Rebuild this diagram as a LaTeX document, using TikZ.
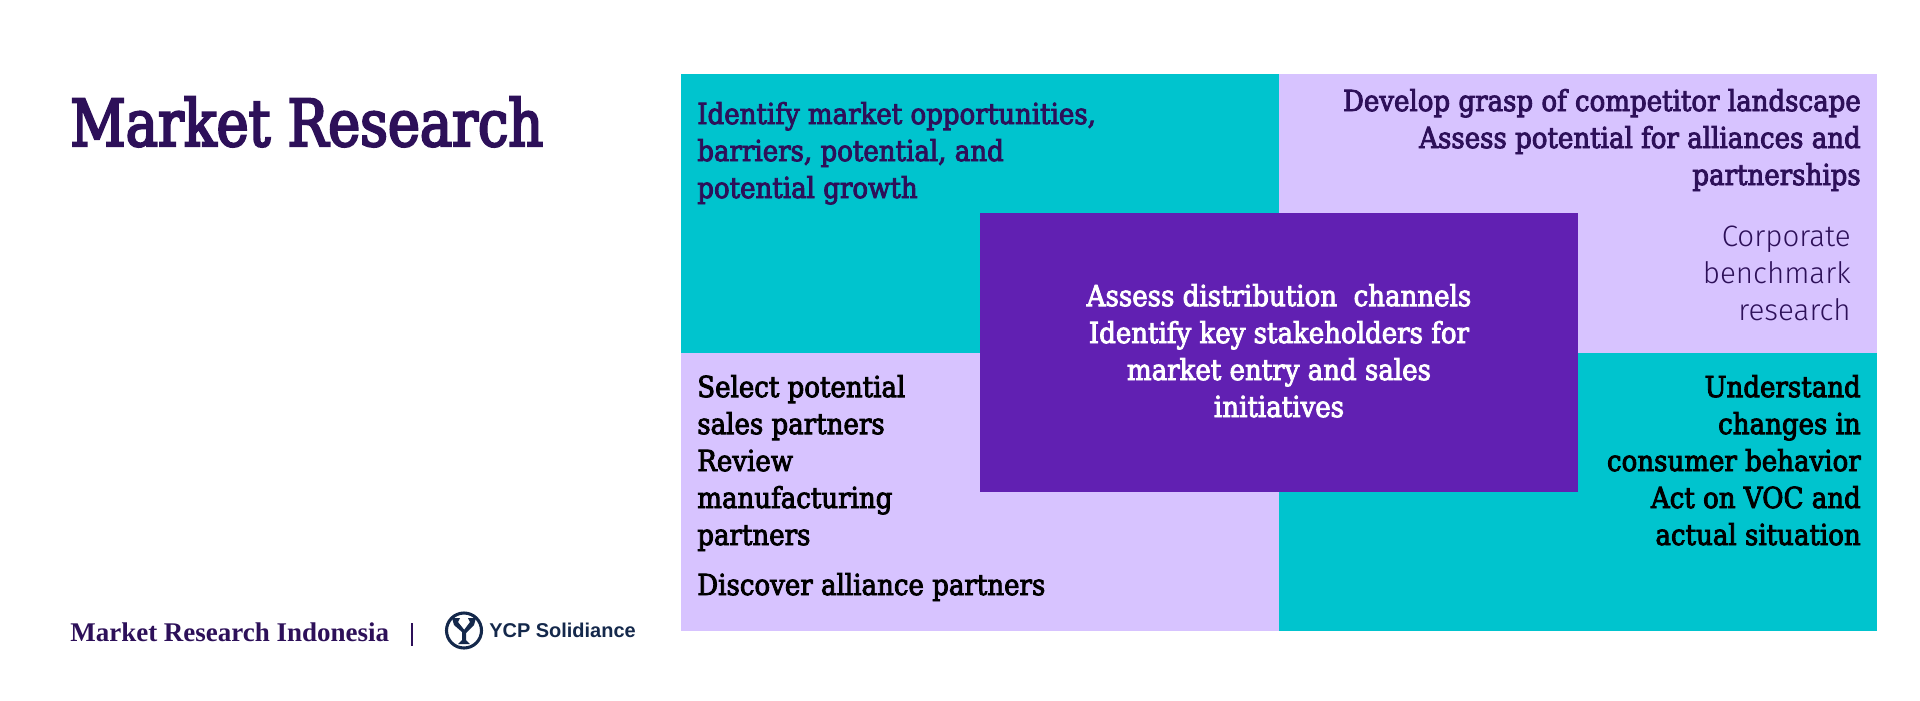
\documentclass[tikz,border=0pt]{standalone}
\usepackage{fontspec}
\newfontfamily\bodyfont[FakeBold=3]{DejaVu Serif Condensed}
\newfontfamily\titlefont[FakeBold=3.5, FakeStretch=0.93]{DejaVu Serif Condensed}
\newfontfamily\plexfont{Fira Sans Light}
\newfontfamily\brandfont{Liberation Serif}
\newfontfamily\logofont{Liberation Sans}
\usetikzlibrary{positioning}
\definecolor{tealbox}{HTML}{00C4CE}
\definecolor{lilacbox}{HTML}{D7C3FF}
\definecolor{violetbox}{HTML}{6120B2}
\definecolor{inktext}{HTML}{2D1059}
\definecolor{navylogo}{HTML}{14284B}
\tikzset{
  bodytext/.style={font=\bodyfont\fontsize{20.6pt}{26.3pt}\selectfont, inner sep=0pt, align=left, anchor=base west},
  righttext/.style={bodytext, align=right, anchor=base east}
}
\begin{document}
\begin{tikzpicture}[x=0.025cm, y=-0.025cm]
    \useasboundingbox (0,0) rectangle (1920,700);

    % four quadrants
    \fill[tealbox] (681,74) rectangle (1279,353);
    \fill[lilacbox] (1279,74) rectangle (1877,353);
    \fill[lilacbox] (681,353) rectangle (1279,631);
    \fill[tealbox] (1279,353) rectangle (1877,631);

    % centre box
    \fill[violetbox] (980,213) rectangle (1578,492);

    % title
    \node[anchor=base west, inner sep=0pt, text=inktext, font=\titlefont\fontsize{46pt}{50pt}\selectfont] (title) at (70,146) {Market Research};

    % quadrant labels
    \node[bodytext, text=inktext] (topleft) at (697,198) {Identify market opportunities,\\barriers, potential, and\\potential growth};
    \node[righttext, text=inktext] (topright) at (1861,185) {Develop grasp of competitor landscape\\Assess potential for alliances and\\partnerships};
    \node[anchor=base east, inner sep=0pt, align=right, text=inktext, font=\plexfont\fontsize{21pt}{26.3pt}\selectfont] (benchmark) at (1851,320) {Corporate\\benchmark\\research};
    \node[bodytext, text=black] (bottomleft) at (697,545) {Select potential\\sales partners\\Review\\manufacturing\\partners};
    \node[bodytext, text=black] (alliance) at (697,595) {Discover alliance partners};
    \node[righttext, text=black] (bottomright) at (1861,545) {Understand\\changes in\\consumer behavior\\Act on VOC and\\actual situation};
    \node[bodytext, align=center, anchor=base, text=white] (centre) at (1279,417) {Assess distribution\ \ channels\\Identify key stakeholders for\\market entry and sales\\initiatives};

    % footer
    \node[anchor=base west, inner sep=0pt, text=inktext, font=\brandfont\fontsize{19.2pt}{20pt}\selectfont\bfseries] (brand) at (70,641) {Market Research Indonesia};
    \draw[inktext, line width=1.2pt] (412,623) -- (412,646);

    % logo mark
    \draw[navylogo, line width=2.2pt] (464,630.5) ellipse (17.5 and 17.5);
    \fill[navylogo] (452,618) -- (460,618) -- (458,622) -- (466,632) -- (466,640) -- (470,644) -- (458,644) -- (462,640) -- (462,632) -- (454,625) -- cycle;
    \fill[navylogo] (476,618) -- (468,618) -- (470,622) -- (464,630) -- (466,633) -- (474,625) -- cycle;
    \node[anchor=base west, inner sep=0pt, text=navylogo, font=\logofont\fontsize{14.2pt}{16pt}\selectfont\bfseries] (logo) at (489,637) {YCP Solidiance};
\end{tikzpicture}
\end{document}
